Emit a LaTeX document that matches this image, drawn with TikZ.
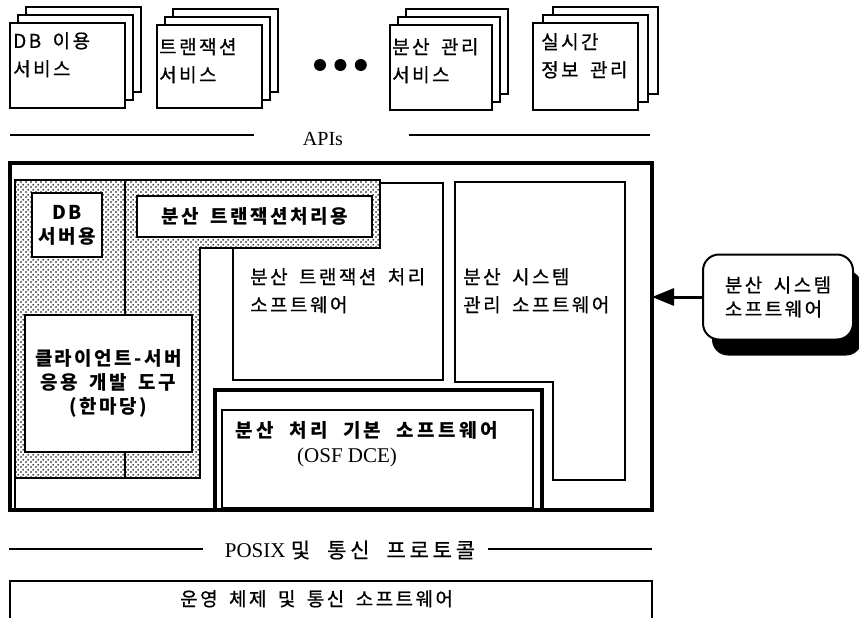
\documentclass[tikz,border=0pt]{standalone}
\usepackage{fontspec}
\setmainfont{Liberation Serif}
\newfontfamily\kr{Noto Sans CJK KR}[LetterSpace=13,WordSpace=1.7,UprightFeatures={FakeBold=0.7}]
\newfontfamily\krwide{Noto Sans CJK KR}[LetterSpace=18,WordSpace=2,UprightFeatures={FakeBold=0.7}]
\usepackage{tikz}
\usetikzlibrary{arrows.meta, positioning, patterns, patterns.meta, shadows}
\tikzdeclarepattern{
  name=kdots,
  type=uncolored,
  bottom left={(0pt,0pt)},
  top right={(5pt,5pt)},
  tile size={(5pt,5pt)},
  code={\fill (1.25pt,1.25pt) circle (1.05pt); \fill (3.75pt,3.75pt) circle (1.05pt);}
}
\tikzstyle{card} = [draw=black, line width=2pt, fill=white, anchor=north west, minimum width=105pt, minimum height=85pt, inner sep=0pt, outer sep=0pt]
\tikzstyle{cardtext} = [anchor=north west, align=left, inner sep=0pt, font=\kr\fontsize{19}{28}\selectfont]
\tikzstyle{box} = [draw=black, line width=2pt, fill=white, anchor=north west, inner sep=0pt, outer sep=0pt, align=center, font=\kr\bfseries\fontsize{19}{24}\selectfont]
\tikzstyle{ktext} = [anchor=north west, align=left, inner sep=0pt, font=\kr\fontsize{19}{28}\selectfont]
\tikzstyle{dot} = [circle, fill=black, inner sep=0pt, minimum size=12pt]
\tikzstyle{boxline} = [line width=2pt]
\tikzstyle{frame} = [line width=3.2pt]
\tikzstyle{rule} = [line width=2.4pt]
\tikzstyle{sysbox} = [draw=black, line width=2pt, fill=white, rounded corners=16pt, minimum width=150pt, minimum height=85pt, align=left, font=\kr\fontsize{19}{24}\selectfont, drop shadow={shadow xshift=9pt, shadow yshift=-16pt, fill=black, opacity=1}]
\tikzstyle{arrow} = [line width=3pt, -{Triangle[length=22pt,width=17pt]}]

\begin{document}
\begin{tikzpicture}[x=1pt, y=-1pt]
    \useasboundingbox (0,0) rectangle (859,618);

    % service cards
    \node[card, minimum width=115pt] (db-3) at (26,7) {};
    \node[card, minimum width=115pt] (db-2) at (18,15) {};
    \node[card, minimum width=115pt] (db-1) at (10,23) {};
    \node[cardtext] (db-t) at (13,32) {DB 이용\\서비스};

    \node[card, minimum height=83pt] (tx-3) at (173,9) {};
    \node[card, minimum height=83pt] (tx-2) at (165,17) {};
    \node[card, minimum height=83pt] (tx-1) at (157,25) {};
    \node[cardtext] (tx-t) at (159,38) {트랜잭션\\서비스};

    \node[dot] (dot-1) at (320,65) {};
    \node[dot, right=8pt of dot-1] (dot-2) {};
    \node[dot, right=8pt of dot-2] (dot-3) {};

    \node[card, minimum width=102pt] (mg-3) at (406,9) {};
    \node[card, minimum width=102pt] (mg-2) at (398,17) {};
    \node[card, minimum width=102pt] (mg-1) at (390,25) {};
    \node[cardtext] (mg-t) at (392,38) {분산 관리\\서비스};

    \node[card, minimum height=87pt] (rt-3) at (553,7) {};
    \node[card, minimum height=87pt] (rt-2) at (543,15) {};
    \node[card, minimum height=87pt] (rt-1) at (533,23) {};
    \node[cardtext] (rt-t) at (541,33) {실시간\\정보 관리};

    % APIs
    \node[font=\fontsize{20}{24}\selectfont] (apis) at (323,139) {APIs};
    \coordinate (apis-l) at (10,135);
    \coordinate (apis-r) at (650,135);
    \draw[rule] (apis-l) -- ([xshift=-45pt]apis.west |- apis-l);
    \draw[rule] ([xshift=62pt]apis.east |- apis-r) -- (apis-r);

    \node[draw, frame, minimum width=642pt, minimum height=347pt, anchor=north west, inner sep=0pt, outer sep=0pt] (main) at (10,163) {};

    \draw[boxline] (380,183) -- (443,183) -- (443,380) -- (233,380) -- (233,248);
    \node[ktext] (txsw) at (250,268) {분산 트랜잭션 처리\\소프트웨어};

    \draw[boxline, pattern=kdots] (15,180) -- (380,180) -- (380,248) -- (200,248) -- (200,478) -- (15,478) -- cycle;
    \draw[boxline] (15,478) -- (15,510);
    \draw[line width=1.4pt] (125,180) -- (125,478);

    \node[box, minimum width=70pt, minimum height=64pt] (dbsrv) at (32,193) {DB\\서버용};
    \node[box, minimum width=235pt, minimum height=41pt] (txuse) at (137,196) {분산 트랜잭션처리용};
    \node[box, minimum width=167pt, minimum height=137pt] (cstool) at (25,315) {클라이언트-서버\\응용 개발 도구\\(한마당)};

    \draw[boxline] (455,182) -- (625,182) -- (625,480) -- (553,480) -- (553,382) -- (455,382) -- cycle;
    \node[ktext] (mgsw) at (463,268) {분산 시스템\\관리 소프트웨어};

    \draw[frame] (215,390) rectangle (542,510);
    \draw[boxline] (222,410) rectangle (533,508);
    \node[ktext, font=\krwide\bfseries\fontsize{19}{25}\selectfont] (dcesw) at (235,421) {분산 처리 기본 소프트웨어\\\hspace*{62pt}{\rmfamily\mdseries\fontsize{21}{25}\selectfont (OSF DCE)}};

    \node[sysbox] (sys) at (778,297) {분산 시스템\\소프트웨어};
    \draw[arrow] (sys.west) -- (sys.west -| main.east);

    % POSIX
    \node[font=\fontsize{21}{24}\selectfont] (posix) at (350,550) {POSIX {\krwide 및 통신 프로토콜}};
    \coordinate (posix-l) at (9,549);
    \coordinate (posix-r) at (652,549);
    \draw[rule] (posix-l) -- ([xshift=-18pt]posix.west |- posix-l);
    \draw[rule] ([xshift=9pt]posix.east |- posix-r) -- (posix-r);

    \draw[boxline] (10,618) -- (10,581) -- (652,581) -- (652,618);
    \node[ktext] (os) at (180,590) {운영 체제 및 통신 소프트웨어};
\end{tikzpicture}
\end{document}
